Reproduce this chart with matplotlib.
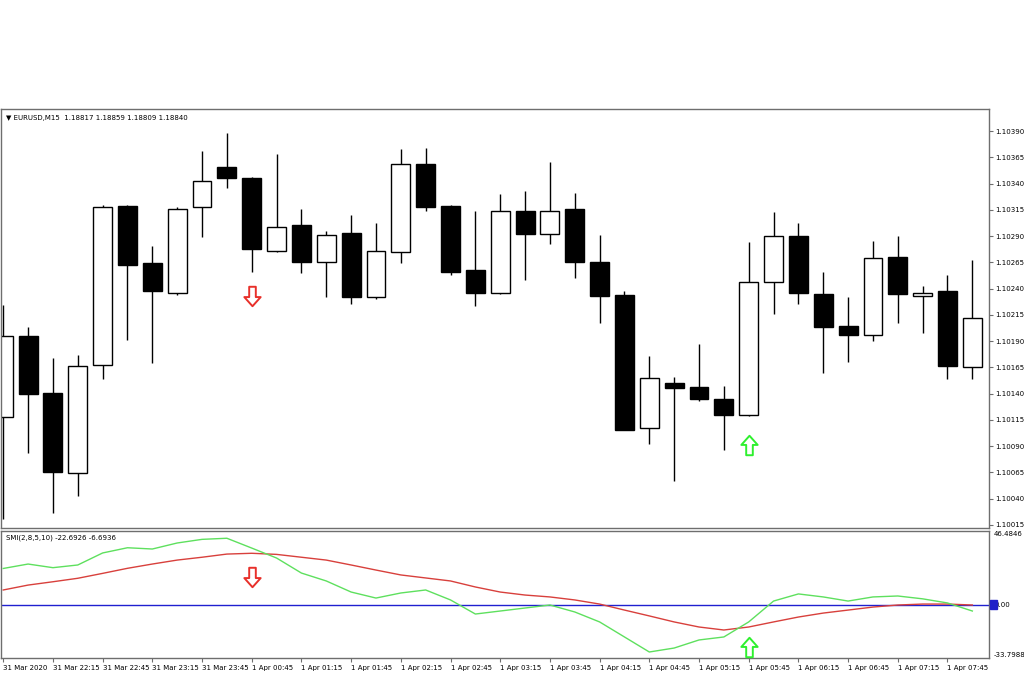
import numpy as np
import matplotlib
matplotlib.use("Agg")
import matplotlib.pyplot as plt
from matplotlib.path import Path

# EURUSD M15 candles
opens = [1.10118, 1.10195, 1.10141, 1.10064, 1.10167, 1.10319, 1.10264, 1.10236,
         1.10318, 1.10356, 1.10345, 1.10276, 1.10301, 1.10265, 1.10293, 1.10232,
         1.10275, 1.10359, 1.10319, 1.10258, 1.10236, 1.10314, 1.10292, 1.10316,
         1.10265, 1.10234, 1.10107, 1.10150, 1.10146, 1.10135, 1.10120, 1.10246,
         1.10290, 1.10235, 1.10204, 1.10196, 1.10270, 1.10233, 1.10238, 1.10165]
highs = [1.10224, 1.10203, 1.10174, 1.10177, 1.10320, 1.10320, 1.10281, 1.10318,
         1.10371, 1.10388, 1.10346, 1.10368, 1.10316, 1.10295, 1.10310, 1.10302,
         1.10373, 1.10374, 1.10320, 1.10314, 1.10330, 1.10333, 1.10361, 1.10331,
         1.10291, 1.10238, 1.10176, 1.10156, 1.10187, 1.10147, 1.10284, 1.10313,
         1.10302, 1.10256, 1.10232, 1.10285, 1.10290, 1.10242, 1.10253, 1.10267]
lows = [1.10021, 1.10083, 1.10026, 1.10042, 1.10154, 1.10191, 1.10169, 1.10234,
        1.10289, 1.10336, 1.10256, 1.10275, 1.10255, 1.10232, 1.10225, 1.10230,
        1.10264, 1.10314, 1.10253, 1.10223, 1.10235, 1.10248, 1.10282, 1.10250,
        1.10207, 1.10105, 1.10092, 1.10057, 1.10133, 1.10086, 1.10119, 1.10216,
        1.10225, 1.10160, 1.10170, 1.10190, 1.10207, 1.10198, 1.10154, 1.10154]
closes = [1.10195, 1.10140, 1.10065, 1.10166, 1.10318, 1.10262, 1.10238, 1.10316,
          1.10342, 1.10345, 1.10278, 1.10299, 1.10265, 1.10291, 1.10232, 1.10276,
          1.10359, 1.10318, 1.10256, 1.10236, 1.10314, 1.10292, 1.10314, 1.10265,
          1.10233, 1.10105, 1.10155, 1.10145, 1.10135, 1.10120, 1.10246, 1.10290,
          1.10236, 1.10203, 1.10196, 1.10269, 1.10235, 1.10236, 1.10166, 1.10212]

# SMI(2,8,5,10) main and signal lines
smi = [22.8, 25.6, 23.3, 25.0, 32.6, 35.9, 35.1, 38.9, 41.2, 41.9,
       35.7, 29.4, 19.9, 14.9, 7.9, 4.1, 7.3, 9.2, 2.9, -6.0,
       -4.1, -2.2, -0.3, -4.7, -11.0, -20.5, -30.0, -27.5, -22.4, -20.5,
       -11.0, 2.2, 6.7, 4.8, 2.2, 4.8, 5.4, 3.6, 1.0, -4.1]
smi_signal = [9.2, 12.3, 14.4, 16.6, 19.7, 22.9, 25.6, 28.1, 29.9, 31.9,
              32.4, 31.7, 29.9, 28.1, 25.0, 21.8, 18.7, 16.8, 14.9, 11.1,
              7.9, 6.0, 4.8, 2.9, 0.3, -3.5, -7.2, -11.0, -14.2, -16.1,
              -14.2, -11.0, -7.9, -5.4, -3.5, -1.6, -0.3, 0.3, 0.3, -0.3]

# signals: candle index, price level, SMI level
sell_signal = (10, 1.10233, 17.4)
buy_signal = (30, 1.10091, -26.8)

time_labels = ["31 Mar 2020", "31 Mar 22:15", "31 Mar 22:45", "31 Mar 23:15",
               "31 Mar 23:45", "1 Apr 00:45", "1 Apr 01:15", "1 Apr 01:45",
               "1 Apr 02:15", "1 Apr 02:45", "1 Apr 03:15", "1 Apr 03:45",
               "1 Apr 04:15", "1 Apr 04:45", "1 Apr 05:15", "1 Apr 05:45",
               "1 Apr 06:15", "1 Apr 06:45", "1 Apr 07:15", "1 Apr 07:45"]
price_ticks = [1.10015 + 0.00025 * k for k in range(16)]
smi_min, smi_max = -33.7988, 46.4846

frame_col = "#6e6e6e"
fs = 5.0

fig = plt.figure(figsize=(10.24, 6.75), dpi=100)
W, H = 1024.0, 675.0
ax = fig.add_axes([0.5 / W, 1 - 528 / H, 988 / W, (528 - 109) / H])
ax2 = fig.add_axes([0.5 / W, 1 - 658 / H, 988 / W, (658 - 531) / H])

x = np.arange(len(opens))
o, h, l, c = map(np.array, (opens, highs, lows, closes))
up = c >= o

# candles
ax.vlines(x, l, h, color="black", lw=1.0, zorder=1)
ax.bar(x[up], (c - o)[up], bottom=o[up], width=0.76, color="white",
       edgecolor="black", lw=1.0, zorder=2)
ax.bar(x[~up], (c - o)[~up], bottom=o[~up], width=0.76, color="black",
       edgecolor="black", lw=1.0, zorder=2)

# hollow arrow markers
down_verts = [(-0.17, 0.5), (0.17, 0.5), (0.17, -0.03), (0.42, -0.03), (0, -0.5),
              (-0.42, -0.03), (-0.17, -0.03), (-0.17, 0.5)]
down_arrow = Path(down_verts, closed=True)
up_arrow = Path([(vx, -vy) for vx, vy in down_verts], closed=True)

ax.plot(sell_signal[0], sell_signal[1], marker=down_arrow, ms=14, mfc="white",
        mec="#e8302a", mew=1.4, zorder=3)
ax.plot(buy_signal[0], buy_signal[1], marker=up_arrow, ms=14, mfc="white",
        mec="#2ef02e", mew=1.4, zorder=3)

ax.set_xlim(-0.11, 39.65)
ax.set_ylim(1.10012, 1.10411)
ax.yaxis.tick_right()
ax.set_yticks(price_ticks)
ax.set_yticklabels([f"{p:.5f}" for p in price_ticks], fontsize=fs)
ax.tick_params(axis="y", length=3, width=0.8, color=frame_col, pad=2)
ax.set_xticks([])
for s in ax.spines.values():
    s.set_color(frame_col)
    s.set_linewidth(1.0)

ax.text(0.006, 0.985, "\u25bc EURUSD,M15  1.18817 1.18859 1.18809 1.18840",
        transform=ax.transAxes, fontsize=fs, va="top", ha="left")

# SMI panel
ax2.axhline(0, color="#2020d0", lw=1.0, zorder=1)
ax2.plot(x, smi_signal, color="#d8403c", lw=1.0, zorder=2)
ax2.plot(x, smi, color="#5ee05e", lw=1.0, zorder=3)
ax2.plot(sell_signal[0], sell_signal[2], marker=down_arrow, ms=14, mfc="white",
         mec="#e8302a", mew=1.4, zorder=4)
ax2.plot(buy_signal[0], buy_signal[2], marker=up_arrow, ms=14, mfc="white",
         mec="#2ef02e", mew=1.4, zorder=4)

ax2.set_xlim(ax.get_xlim())
ax2.set_ylim(smi_min, smi_max)
ax2.yaxis.tick_right()
ax2.set_yticks([smi_max, 0, smi_min])
ax2.set_yticklabels([f"{smi_max:.4f}", "0.00", f"{smi_min:.4f}"], fontsize=fs)
ylabs = ax2.get_yticklabels()
ylabs[0].set_va("top")
ylabs[2].set_va("bottom")
ylabs[1].set_bbox(dict(boxstyle="square,pad=0.1", fc="white", ec="none"))
ax2.tick_params(axis="y", length=0, pad=4)
ax2.set_xticks(x[::2])
ax2.set_xticklabels(time_labels, fontsize=fs, ha="left")
ax2.tick_params(axis="x", length=3, width=0.8, color=frame_col, pad=2)
for s in ax2.spines.values():
    s.set_color(frame_col)
    s.set_linewidth(1.0)

# blue level marker on the price scale
ax2.text(1.003, 0, "  ", transform=ax2.get_yaxis_transform(), fontsize=fs,
         va="center", ha="left",
         bbox=dict(boxstyle="square,pad=0.15", fc="#2020c8", ec="#2020c8"))

ax2.text(0.006, 0.97, "SMI(2,8,5,10) -22.6926 -6.6936", transform=ax2.transAxes,
         fontsize=fs, va="top", ha="left")

fig.savefig("out.png", dpi=100)
